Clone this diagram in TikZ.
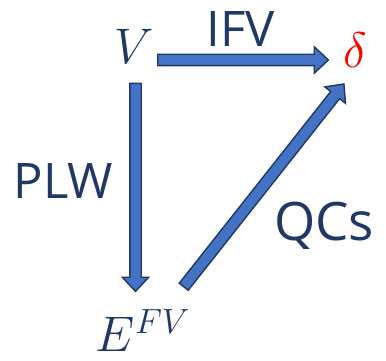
\documentclass[tikz,border=0pt]{standalone}
\usepackage{fix-cm}
\usepackage{fontspec}
\setsansfont{Open Sans}
\usetikzlibrary{shapes.arrows,calc}
\definecolor{navy}{RGB}{31,56,100}
\definecolor{arrowblue}{RGB}{68,114,196}
\tikzset{
  lbl/.style={font=\sffamily\fontsize{49}{56}\selectfont, text=navy, inner sep=0pt, anchor=base},
  sym/.style={font=\fontsize{50}{58}\selectfont, inner sep=0pt, anchor=base},
  blockarrow/.style={single arrow, draw=navy, fill=arrowblue, line width=1.4pt,
    inner xsep=0pt, inner ysep=5pt, single arrow head extend=7.5pt,
    single arrow tip angle=86, sloped, allow upside down, anchor=tail, pos=0}
}
\begin{document}
\begin{tikzpicture}[x=1pt, y=1pt]
  \useasboundingbox (0,0) rectangle (386,361);
  \node[sym, text=navy] (v) at (134,297.7) {$V$};
  \node[sym, text=red] (delta) at (355,293.5) {$\delta$};
  \node[sym, text=navy] (efv) at (143,9) {$E^{FV}$};
  % arrow ends
  \coordinate (v-r) at (157,301);
  \coordinate (delta-l) at (327.7,301);
  \coordinate (v-b) at (135.5,278.3);
  \coordinate (efv-t) at (135.5,70.3);
  \coordinate (efv-r) at (183.3,73.7);
  \coordinate (delta-b) at (343.5,276.5);
  \foreach \a/\b in {v-r/delta-l, v-b/efv-t, efv-r/delta-b}
    \path let \p1=($(\b)-(\a)$), \n1={veclen(\x1,\y1)} in
      (\a) -- (\b) node[blockarrow, minimum height=\n1] {};
  \node[lbl] (ifv) at (241,314.3) {IFV};
  \node[lbl] (plw) at (63.5,162) {PLW};
  \node[lbl, font=\sffamily\fontsize{53}{60}\selectfont] (qcs) at (324,120) {QCs};
\end{tikzpicture}
\end{document}
